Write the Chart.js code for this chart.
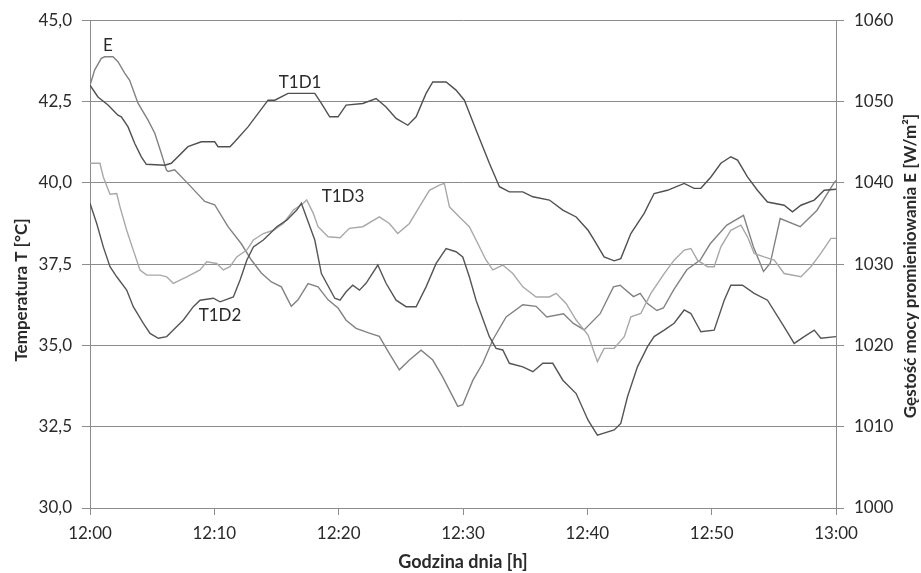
<!DOCTYPE html>
<html>
<head>
<meta charset="utf-8">
<script src="https://cdn.jsdelivr.net/npm/chart.js@4/dist/chart.umd.min.js"></script>
<style>
html,body{margin:0;padding:0;background:#fff;}
#wrap{width:921px;height:573px;}
</style>
</head>
<body>
<div id="wrap"><canvas id="c" width="921" height="573"></canvas></div>
<script>
// ---- data (time in minutes after 12:00) ----
const xTickLabels = ["12:00","12:10","12:20","12:30","12:40","12:50","13:00"];
const leftTicks = [30,32.5,35,37.5,40,42.5,45];
const rightTicks = [1000,1010,1020,1030,1040,1050,1060];

const t1d1Time = [0,0.64,1.45,2.25,2.52,3.06,3.60,4.13,4.53,6.01,6.54,7.88,8.95,10.03,10.30,11.26,11.64,12.71,14.32,14.86,15.93,18.08,18.61,19.28,19.95,20.60,21.94,23.01,23.81,24.62,25.56,26.23,27.03,27.57,28.64,29.44,30.11,31.05,32.12,32.93,33.73,34.81,35.62,36.95,38.03,39.10,40.06,40.55,41.35,42.16,42.69,43.50,44.57,45.37,46.44,47.79,48.59,49.13,49.94,50.74,51.54,52.08,52.88,53.68,54.49,55.83,56.50,57.18,58.25,59.05,60];
const t1d1Temp = [43.00,42.64,42.39,42.08,42.03,41.72,41.21,40.80,40.57,40.54,40.60,41.11,41.26,41.26,41.11,41.11,41.26,41.72,42.54,42.54,42.75,42.75,42.44,42.03,42.03,42.39,42.44,42.59,42.33,41.98,41.77,42.03,42.75,43.10,43.10,42.85,42.54,41.62,40.60,39.88,39.72,39.72,39.57,39.47,39.16,38.95,38.54,38.24,37.72,37.60,37.67,38.44,39.06,39.67,39.77,39.98,39.83,39.83,40.18,40.60,40.80,40.70,40.18,39.77,39.41,39.31,39.11,39.31,39.47,39.77,39.80];

const t1d2Time = [0,0.54,1.07,1.61,2.15,2.95,3.48,4.29,4.83,5.49,6.17,6.70,7.51,8.31,8.85,9.92,10.46,11.53,12.07,12.61,13.14,13.94,14.48,15.02,15.82,16.63,17.00,18.08,18.61,19.69,20.11,20.60,21.13,21.67,22.20,23.15,23.81,24.62,25.42,26.23,27.03,27.84,28.64,29.44,29.98,30.51,31.05,32.12,32.66,33.20,33.73,34.81,35.62,36.42,37.22,38.03,39.10,40.06,40.81,42.16,42.69,43.23,44.03,44.84,45.37,46.18,46.98,47.79,48.33,49.13,50.20,51.01,51.54,52.48,53.42,54.49,55.83,56.64,57.44,58.25,58.78,60];
const t1d2Temp = [39.37,38.75,38.03,37.42,37.11,36.70,36.19,35.68,35.37,35.22,35.27,35.47,35.78,36.19,36.39,36.45,36.34,36.49,37.01,37.62,38.03,38.24,38.44,38.65,38.85,39.16,39.37,38.24,37.21,36.45,36.39,36.65,36.85,36.70,36.91,37.47,36.91,36.39,36.19,36.19,36.80,37.52,37.98,37.88,37.72,37.11,36.39,35.27,34.91,34.86,34.45,34.34,34.19,34.45,34.45,33.93,33.52,32.70,32.24,32.40,32.60,33.42,34.34,34.96,35.27,35.47,35.68,36.09,35.98,35.42,35.47,36.39,36.85,36.85,36.60,36.39,35.57,35.06,35.27,35.47,35.22,35.27];

const t1d3Time = [0,0.80,1.07,1.61,2.15,2.41,2.95,3.48,4.02,4.56,5.63,6.17,6.70,7.24,7.78,8.85,9.39,10.19,10.72,11.26,11.80,12.61,13.14,13.94,14.75,15.55,16.36,17.16,17.43,17.96,18.34,19.15,20.11,20.86,21.94,23.27,24.08,24.75,25.69,26.49,27.30,28.10,28.50,28.91,29.71,30.51,31.05,31.86,32.40,33.20,34.01,34.81,35.88,36.95,37.49,38.29,39.10,40.06,40.81,41.35,42.16,42.97,43.50,44.30,45.11,46.18,46.98,47.79,48.33,48.86,49.66,50.20,50.74,51.54,52.35,52.88,53.42,54.22,55.03,55.83,57.18,57.98,58.78,59.59,60];
const t1d3Temp = [40.60,40.60,40.18,39.65,39.67,39.26,38.54,37.93,37.32,37.16,37.16,37.11,36.91,37.01,37.11,37.32,37.57,37.52,37.32,37.42,37.72,37.93,38.24,38.44,38.54,38.75,39.16,39.37,39.47,39.06,38.65,38.34,38.31,38.60,38.65,38.95,38.75,38.44,38.75,39.26,39.77,39.93,39.98,39.26,38.95,38.65,38.24,37.62,37.32,37.47,37.21,36.80,36.49,36.49,36.60,36.29,35.78,35.32,34.50,34.91,34.91,35.27,35.88,35.98,36.60,37.21,37.62,37.93,37.98,37.62,37.42,37.42,38.03,38.54,38.70,38.34,37.83,37.72,37.62,37.21,37.11,37.42,37.83,38.29,38.29];

const eTime = [0,0.38,0.91,1.18,1.85,2.25,2.79,3.19,3.86,4.67,5.21,5.74,6.14,6.28,6.81,7.88,9.23,10.03,11.10,12.17,12.98,13.78,14.59,15.39,16.19,16.73,17.54,18.34,19.15,19.95,20.60,21.40,22.47,23.27,24.08,24.88,25.69,26.63,27.57,28.37,29.18,29.58,29.98,30.79,31.59,32.40,33.47,34.81,35.88,36.74,38.08,38.88,39.74,41.03,42.10,42.64,43.71,44.25,44.79,45.59,46.12,46.93,48.00,49.08,49.88,51.22,52.56,53.36,54.17,54.71,55.51,57.12,58.46,59.80,60];
const eIrr = [1052.0,1053.9,1055.3,1055.5,1055.5,1054.9,1053.5,1052.6,1049.8,1047.7,1046.1,1043.6,1041.6,1041.4,1041.6,1039.9,1037.7,1037.3,1034.6,1032.5,1030.5,1028.9,1027.8,1027.2,1024.8,1025.6,1027.6,1027.2,1025.6,1024.6,1023.1,1022.1,1021.5,1021.1,1019.0,1017.0,1018.2,1019.4,1018.2,1016.1,1013.7,1012.5,1012.7,1015.7,1017.8,1020.7,1023.5,1025.0,1024.8,1023.5,1023.9,1022.7,1021.9,1023.9,1027.2,1027.4,1026.0,1026.4,1025.2,1024.3,1024.6,1026.8,1029.3,1030.5,1032.5,1034.8,1036.0,1032.1,1029.1,1030.1,1035.6,1034.6,1036.6,1039.9,1040.3];

const seriesNames = ["T1D1","T1D2","T1D3","E"];
const labelPos = { // [minute, temperature] for in-chart series labels
  "E":[1.45,44.23], "T1D1":[16.9,43.09], "T1D3":[20.35,39.57], "T1D2":[10.46,35.93]
};
const xTitle = "Godzina dnia [h]";
const yLeftTitle = "Temperatura T [°C]";
const yRightTitle = "Gęstość mocy promieniowania E [W/m²]";

const pts = (xs, ys) => xs.map((x,i)=>({x:x, y:ys[i]}));

const FONT = "Lato, 'Open Sans', sans-serif";
const TXT = "#2a2a2a";
const GRID = "#8c8c8c";

const labelsPlugin = {
  id:'labels',
  afterDraw(chart){
    const ctx = chart.ctx, xs = chart.scales.x, ys = chart.scales.y;
    ctx.save();
    ctx.fillStyle = TXT;
    ctx.font = "17px " + FONT;
    ctx.textAlign = "center"; ctx.textBaseline = "middle";
    for (const k of seriesNames){
      const p = labelPos[k];
      ctx.fillText(k, xs.getPixelForValue(p[0]), ys.getPixelForValue(p[1]));
    }
    const ca = chart.chartArea;
    ctx.font = "bold 18px " + FONT;
    ctx.fillText(xTitle, (ca.left+ca.right)/2, 562);
    ctx.font = "bold 17px " + FONT;
    ctx.save();
    ctx.translate(22, 290); ctx.rotate(-Math.PI/2);
    ctx.fillText(yLeftTitle, 0, 0);
    ctx.restore();
    ctx.save();
    ctx.translate(911, 266); ctx.rotate(-Math.PI/2);
    ctx.fillText(yRightTitle, 0, 0);
    ctx.restore();
    ctx.restore();
  }
};

new Chart(document.getElementById('c'), {
  type:'line',
  data:{ datasets:[
    {label:"T1D1", data:pts(t1d1Time,t1d1Temp), borderColor:"#505050", yAxisID:'y'},
    {label:"T1D2", data:pts(t1d2Time,t1d2Temp), borderColor:"#555555", yAxisID:'y'},
    {label:"T1D3", data:pts(t1d3Time,t1d3Temp), borderColor:"#a8a8a8", yAxisID:'y'},
    {label:"E", data:pts(eTime,eIrr), borderColor:"#828282", yAxisID:'y2'}
  ]},
  options:{
    responsive:false, animation:false,
    layout:{padding:{top:20,left:0,right:0,bottom:0}},
    elements:{point:{radius:0}, line:{borderWidth:1.4, tension:0}},
    plugins:{legend:{display:false}, tooltip:{enabled:false}},
    scales:{
      x:{type:'linear', min:0, max:60,
        afterBuildTicks(s){ s.ticks = xTickLabels.map((_,i)=>({value:i*10})); },
        afterFit(s){ s.height = 65; },
        ticks:{font:{family:FONT,size:17}, color:TXT, padding:8, maxRotation:0,
          callback:(v)=>xTickLabels[Math.round(v/10)]},
        grid:{drawOnChartArea:false, drawTicks:true, tickLength:7, color:GRID},
        border:{color:GRID}
      },
      y:{position:'left', min:30, max:45,
        afterBuildTicks(s){ s.ticks = leftTicks.map(v=>({value:v})); },
        afterFit(s){ s.width = 90; },
        ticks:{font:{family:FONT,size:17}, color:TXT, padding:10,
          callback:(v)=>v.toFixed(1).replace('.',',')},
        grid:{color:GRID, tickLength:8},
        border:{color:GRID}
      },
      y2:{position:'right', min:1000, max:1060,
        afterBuildTicks(s){ s.ticks = rightTicks.map(v=>({value:v})); },
        afterFit(s){ s.width = 85; },
        ticks:{font:{family:FONT,size:17}, color:TXT, padding:10,
          callback:(v)=>String(v)},
        grid:{drawOnChartArea:false, color:GRID, tickLength:8},
        border:{color:GRID}
      }
    }
  },
  plugins:[labelsPlugin]
});
</script>
</body>
</html>
